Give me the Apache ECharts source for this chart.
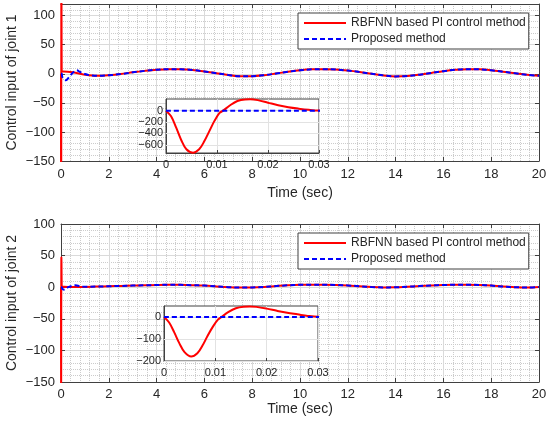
<!DOCTYPE html>
<html><head><meta charset="utf-8">
<script src="https://cdn.jsdelivr.net/npm/echarts@6/dist/echarts.min.js"></script>
<style>html,body{margin:0;padding:0;background:#fff}#c{width:550px;height:425px}</style>
</head><body><div id="c"></div>
<script>
// ---------- data ----------
const NAME_RED = 'RBFNN based PI control method';
const NAME_BLUE = 'Proposed method';
const xTicks = [0, 2, 4, 6, 8, 10, 12, 14, 16, 18, 20];
const insetTicks1 = [-600, -400, -200, 0];
const insetTicks2 = [-200, -100, 0];

// steady-state time stamps (s)
const tSteady = [1.5,2.0,2.5,3.0,3.5,4.0,4.5,5.0,5.5,6.0,6.5,7.0,7.5,8.0,8.5,9.0,9.5,10.0,10.5,11.0,11.5,12.0,12.5,13.0,13.5,14.0,14.5,15.0,15.5,16.0,16.5,17.0,17.5,18.0,18.5,19.0,19.5,20.0];
// joint 1 steady control input (both methods overlap)
const u1Steady = [-3.5,-2.5,-0.5,2.5,5,7,8,7.8,6.5,4,1,-2,-4.3,-4.2,-2.5,0.5,3.5,6,7.6,8,7.3,5.5,3,0,-2.8,-4.5,-3.8,-1.5,1.5,4.5,6.8,8,7.6,6,3.5,0.8,-1.8,-3.5];
// joint 2 steady control input
const u2Steady = [1,1.5,2,2.5,3,3.5,3.8,3.7,3.2,2.5,1.2,0,-0.5,-0.3,0.5,1.8,3,3.8,4,4,3.6,2.8,1.5,0.3,-0.3,-0.2,0.8,1.8,2.8,3.5,3.8,3.8,3.5,2.5,1,0,-0.5,0.5];

// early transients [t, u]
const red1Early = [[0,0],[0.001,-100],[0.002,-300],[0.003,-520],[0.004,-680],[0.0053,-740],[0.0065,-680],[0.0075,-540],[0.0085,-360],[0.0095,-180],[0.0105,-40],[0.0112,0],[0.0125,90],[0.014,170],[0.0155,198],[0.0165,200],[0.018,185],[0.02,140],[0.022,95],[0.024,60],[0.026,35],[0.028,15],[0.03,4],[0.1,4],[0.5,2.5],[1.0,-1.5]];
const blue1Early = [[0,0],[0.01,0],[0.02,0],[0.03,0],[0.06,-6],[0.2,-11],[0.35,-5],[0.5,2],[0.65,6],[0.8,3],[1.0,-0.5],[1.2,-2.5]];
const red2Early = [[0,0],[0.001,-25],[0.002,-70],[0.003,-120],[0.004,-160],[0.0053,-180],[0.0065,-165],[0.0075,-130],[0.0085,-85],[0.0095,-45],[0.0105,-12],[0.0112,0],[0.0125,22],[0.014,40],[0.0155,47],[0.0167,48],[0.018,46],[0.02,38],[0.022,28],[0.024,19],[0.026,12],[0.028,5],[0.03,1],[0.3,0.5],[0.8,0.5]];
const blue2Early = [[0,0],[0.01,0],[0.02,0],[0.03,0],[0.06,-3],[0.15,-4],[0.3,0],[0.6,3],[0.9,1],[1.2,0.8]];

// ---------- build ----------
const steady = (u) => tSteady.map((t, i) => [t, u[i]]);
const red1 = red1Early.concat(steady(u1Steady));
const blue1 = blue1Early.concat(steady(u1Steady));
const red2 = red2Early.concat(steady(u2Steady));
const blue2 = blue2Early.concat(steady(u2Steady));

const AX = '#404040', TXT = '#262626', GRIDC = '#dadada', MINC = '#cccccc';
const FONT = 'Liberation Sans, Arial, sans-serif';
const minus = v => String(+v.toFixed(6)).replace('-', '\u2212');

function mainX(gi, nameGap, margin) {
  return {
    gridIndex: gi, type: 'value', min: xTicks[0], max: xTicks[xTicks.length - 1], interval: xTicks[1] - xTicks[0],
    name: 'Time (sec)', nameLocation: 'middle', nameGap: nameGap, nameMoveOverlap: false,
    nameTextStyle: { fontSize: 14, color: TXT, fontFamily: FONT },
    axisLine: { show: true, onZero: false, lineStyle: { color: AX } },
    axisTick: { show: true, inside: true, length: 4, lineStyle: { color: AX } },
    axisLabel: { fontSize: 13, color: TXT, margin: margin, fontFamily: FONT },
    splitLine: { show: true, lineStyle: { color: GRIDC } },
    minorTick: { show: false, splitNumber: 5 },
    minorSplitLine: { show: true, lineStyle: { color: MINC, type: 'dotted' } }
  };
}
function sideX(gi) {
  return {
    gridIndex: gi, type: 'value', position: 'top', min: 0, max: 20, interval: 2,
    axisLine: { show: true, onZero: false, lineStyle: { color: AX } },
    axisTick: { show: true, inside: true, length: 4, lineStyle: { color: AX } },
    axisLabel: { show: false }, splitLine: { show: false }
  };
}
function mainY(gi, min, max, name) {
  return {
    gridIndex: gi, type: 'value', min: min, max: max, interval: 50,
    name: name, nameLocation: 'middle', nameGap: 42, nameMoveOverlap: false,
    nameTextStyle: { fontSize: 14, color: TXT, fontFamily: FONT },
    axisLine: { show: true, onZero: false, lineStyle: { color: AX } },
    axisTick: { show: true, inside: true, length: 4, lineStyle: { color: AX } },
    axisLabel: { fontSize: 13, color: TXT, margin: 6, fontFamily: FONT, showMaxLabel: max % 50 === 0, formatter: minus },
    splitLine: { show: true, lineStyle: { color: GRIDC } },
    minorTick: { show: false, splitNumber: 5 },
    minorSplitLine: { show: true, lineStyle: { color: MINC, type: 'dotted' } }
  };
}
function sideY(gi, min, max) {
  return {
    gridIndex: gi, type: 'value', position: 'right', min: min, max: max, interval: 50,
    axisLine: { show: true, onZero: false, lineStyle: { color: AX } },
    axisTick: { show: true, inside: true, length: 4, lineStyle: { color: AX } },
    axisLabel: { show: false }, splitLine: { show: false }
  };
}
function insetX(gi) {
  return {
    gridIndex: gi, type: 'value', min: 0, max: 0.03, interval: 0.01, z: 4,
    axisLine: { show: true, onZero: false, lineStyle: { color: AX } },
    axisTick: { show: true, inside: true, length: 3, lineStyle: { color: AX } },
    axisLabel: { fontSize: 11, color: TXT, margin: 6, fontFamily: FONT, formatter: minus },
    splitLine: { show: true, lineStyle: { color: '#e2e2e2' } }
  };
}
function insetY(gi, min, max, ticks) {
  return {
    gridIndex: gi, type: 'value', min: min, max: max, z: 4,
    axisLine: { show: true, onZero: false, lineStyle: { color: AX } },
    axisTick: { show: true, inside: true, length: 3, customValues: ticks, lineStyle: { color: AX } },
    axisLabel: { fontSize: 11, color: TXT, margin: 3, fontFamily: FONT, customValues: ticks, formatter: minus },
    splitLine: { show: false }
  };
}
function ser(name, data, xi, yi, color, dashed, z) {
  return {
    type: 'line', name: name, data: data, xAxisIndex: xi, yAxisIndex: yi,
    symbol: 'none', smooth: 0.35, z: z, clip: true,
    lineStyle: { color: color, width: 2, type: dashed ? [5, 3] : 'solid' },
    itemStyle: { color: color }
  };
}
function insetGridLines(ticks) {
  return { silent: true, symbol: 'none', label: { show: false },
    lineStyle: { color: '#e2e2e2', width: 1, type: 'solid' },
    data: ticks.map(v => ({ yAxis: v })) };
}
function legend(top) {
  return {
    top: top, left: 298, orient: 'vertical', itemWidth: 42, itemHeight: 12, itemGap: 4,
    padding: [4, 3, 4, 5], backgroundColor: '#fff', borderColor: AX, borderWidth: 1, borderRadius: 0,
    itemStyle: { opacity: 0 },
    textStyle: { fontSize: 12, color: TXT, fontFamily: FONT },
    data: [NAME_RED, NAME_BLUE]
  };
}

const s = [
  ser(NAME_RED, red1, 0, 0, '#ff0000', false, 2),
  ser(NAME_BLUE, blue1, 0, 0, '#0000ff', true, 2),
  ser(NAME_RED, red2, 2, 2, '#ff0000', false, 2),
  ser(NAME_BLUE, blue2, 2, 2, '#0000ff', true, 2),
  ser(NAME_RED, red1, 4, 4, '#ff0000', false, 6),
  ser(NAME_BLUE, blue1, 4, 4, '#0000ff', true, 6),
  ser(NAME_RED, red2, 5, 5, '#ff0000', false, 6),
  ser(NAME_BLUE, blue2, 5, 5, '#0000ff', true, 6)
];
s[4].markLine = insetGridLines(insetTicks1);
s[6].markLine = insetGridLines(insetTicks2);

const G = { containLabel: false, outerBoundsMode: 'none' };
const option = {
  animation: false,
  backgroundColor: '#fff',
  textStyle: { fontFamily: FONT },
  grid: [
    Object.assign({ left: 61, top: 4, width: 478, height: 157 }, G),
    Object.assign({ left: 61, top: 224, width: 478, height: 158 }, G),
    Object.assign({ left: 166, top: 99, width: 153, height: 54, show: true, backgroundColor: '#fff', borderColor: AX, borderWidth: 1, z: 3 }, G),
    Object.assign({ left: 164, top: 306, width: 154, height: 55, show: true, backgroundColor: '#fff', borderColor: AX, borderWidth: 1, z: 3 }, G)
  ],
  xAxis: [mainX(0, 25, 7), sideX(0), mainX(1, 20, 6), sideX(1), insetX(2), insetX(3)],
  yAxis: [
    mainY(0, -150, 120, 'Control input of joint 1'), sideY(0, -150, 120),
    mainY(1, -150, 100, 'Control input of joint 2'), sideY(1, -150, 100),
    insetY(2, -745, 205, insetTicks1), insetY(3, -200, 50, insetTicks2)
  ],
  legend: [legend(13), legend(233)],
  series: s
};
const chart = echarts.init(document.getElementById('c'), null, { renderer: 'canvas' });
chart.setOption(option);
</script></body></html>
